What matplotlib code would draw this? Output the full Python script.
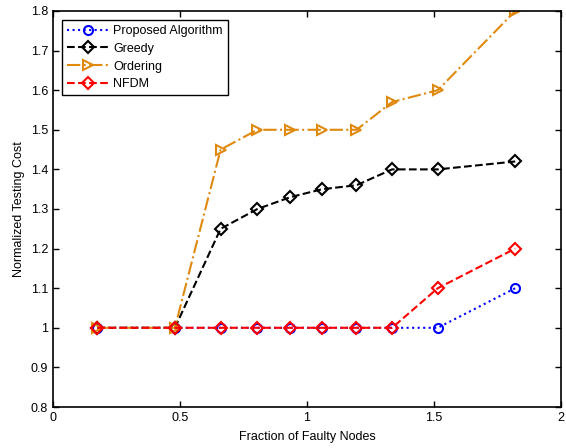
import matplotlib.pyplot as plt
from matplotlib.ticker import FormatStrFormatter

plt.rcParams['font.family'] = ['Liberation Sans', 'DejaVu Sans']

fraction = [0.175, 0.48, 0.66, 0.805, 0.935, 1.06, 1.195, 1.335, 1.515, 1.82]
proposed = [1.0, 1.0, 1.0, 1.0, 1.0, 1.0, 1.0, 1.0, 1.0, 1.1]
greedy = [1.0, 1.0, 1.25, 1.3, 1.33, 1.35, 1.36, 1.4, 1.4, 1.42]
ordering = [1.0, 1.0, 1.45, 1.5, 1.5, 1.5, 1.5, 1.57, 1.6, 1.8]
nfdm = [1.0, 1.0, 1.0, 1.0, 1.0, 1.0, 1.0, 1.0, 1.1, 1.2]

fig = plt.figure(figsize=(5.66, 4.48), dpi=100)
ax = fig.add_axes([0.0936, 0.0915, 0.8975, 0.884])

orange = '#DF8A0F'
ms = 6.5
ax.plot(fraction, proposed, ':', color='blue', marker='o', mfc='none',
        mec='blue', ms=ms, mew=1.5, lw=1.5, label='Proposed Algorithm')
ax.plot(fraction, greedy, '--', color='black', marker='D', mfc='none',
        mec='black', ms=ms - 0.5, mew=1.5, lw=1.5, label='Greedy')
ax.plot(fraction, ordering, '-.', color=orange, marker='>', mfc='none',
        mec=orange, ms=ms + 1, mew=1.5, lw=1.5, label='Ordering')
ax.plot(fraction, nfdm, '--', color='red', marker='D', mfc='none',
        mec='red', ms=ms - 0.5, mew=1.5, lw=1.5, label='NFDM')

ax.set_xlim(0, 2)
ax.set_ylim(0.8, 1.8)
ax.set_xticks([0, 0.5, 1, 1.5, 2])
ax.set_yticks([0.8, 0.9, 1.0, 1.1, 1.2, 1.3, 1.4, 1.5, 1.6, 1.7, 1.8])
ax.xaxis.set_major_formatter(FormatStrFormatter('%g'))
ax.yaxis.set_major_formatter(FormatStrFormatter('%g'))
ax.tick_params(direction='in', top=True, right=True, length=4, width=1,
               labelsize=9)
for s in ax.spines.values():
    s.set_linewidth(1.2)

ax.set_xlabel('Fraction of Faulty Nodes', fontsize=9, labelpad=5)
ax.set_ylabel('Normalized Testing Cost', fontsize=9)

leg = ax.legend(loc='upper left', bbox_to_anchor=(0.018, 0.977),
                borderaxespad=0, fontsize=9, fancybox=False, framealpha=1,
                edgecolor='black', handlelength=3.3, handletextpad=0.4,
                labelspacing=0.46)
leg.get_frame().set_linewidth(1)

fig.savefig('out.png', dpi=100)
